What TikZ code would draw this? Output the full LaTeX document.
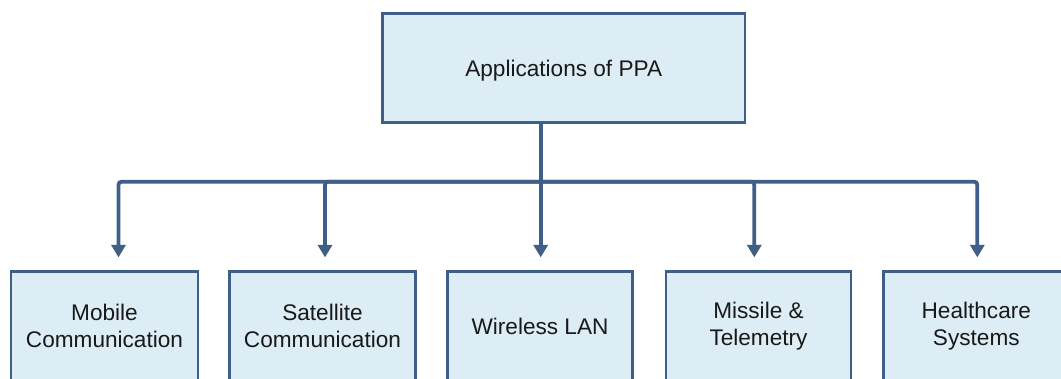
\documentclass[tikz,border=0pt]{standalone}
\usepackage{fontspec}
\setmainfont{Liberation Sans}
\usetikzlibrary{arrows.meta,calc}
\definecolor{edgeblue}{RGB}{63,95,134}
\definecolor{boxfill}{RGB}{220,237,245}
\definecolor{labeltext}{RGB}{25,25,25}
\tikzset{
  appbox/.style={draw=edgeblue, line width=2.8pt, fill=boxfill, rectangle,
    minimum height=109pt, inner sep=0pt, align=center, text=labeltext,
    font=\fontsize{22.6pt}{27pt}\selectfont},
  feed/.style={draw=edgeblue, line width=3.8pt, rounded corners=3pt},
  feedarrow/.style={feed, -{Triangle[width=14pt,length=12.5pt]}, shorten >=13pt}
}
\begin{document}
\begin{tikzpicture}[x=1pt,y=-1pt]
  \useasboundingbox (0,0) rectangle (1061,378);
  \clip (0,0) rectangle (1061,378);
  % root and the five application areas
  \node[appbox, minimum width=362.7pt, text height=22pt, text depth=4.7pt] (root) at (563.7,67.8) {Applications of PPA};
  \node[appbox, minimum width=187pt] (mob) at (104.5,326.3) {Mobile\\Communication};
  \node[appbox, minimum width=186pt] (sat) at (322.5,326.3) {Satellite\\Communication};
  \node[appbox, minimum width=185pt] (wlan) at (540,326.3) {Wireless LAN};
  \node[appbox, minimum width=185pt] (mis) at (758.5,326.3) {Missile \&\\Telemetry};
  \node[appbox, minimum width=186pt] (hc) at (976.3,326.3) {Healthcare\\Systems};
  % distribution bus below the root
  \coordinate (bus) at ($(root.south)+(-23,58)$);
  \draw[feed] ([xshift=-23pt]root.south) -- (bus);
  \draw[feedarrow] (bus) -| ([xshift=14pt]mob.north);
  \draw[feedarrow] (bus) -| ([xshift=2.5pt]sat.north);
  \draw[feedarrow] (bus) -- ([xshift=0.7pt]wlan.north);
  \draw[feedarrow] (bus) -| ([xshift=-4.2pt]mis.north);
  \draw[feedarrow] (bus) -| ([xshift=1pt]hc.north);
\end{tikzpicture}
\end{document}
